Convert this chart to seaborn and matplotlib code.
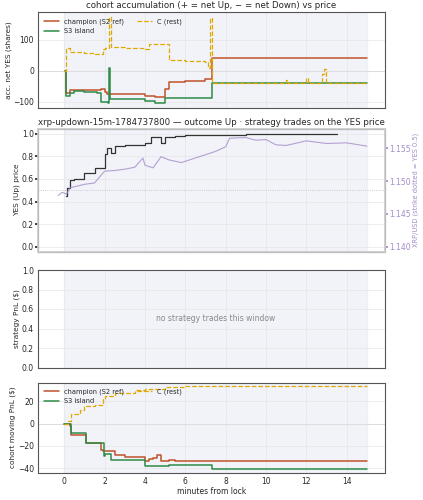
import matplotlib
matplotlib.use("Agg")
import matplotlib.pyplot as plt
import seaborn as sns
import pandas as pd

sns.set_theme(style="whitegrid")
plt.rcParams['font.family'] = ['DejaVu Sans']

RED = "#c0522a"; GRN = "#2e8b47"; YEL = "#e0a800"; PUR = "#a58bc8"

# top panel: accumulation
champ_t = [0.05, 0.1, 0.3, 1.0, 1.8, 2.0, 2.1, 3.0, 4.0, 4.5, 5.0, 5.2, 6.0, 7.0, 7.3, 15]
champ_v = [0, -72, -62, -62, -58, -68, -75, -73, -82, -85, -58, -35, -33, -25, 40, 40]
s3_t = [0.05, 0.1, 0.3, 0.5, 1.0, 1.6, 1.8, 2.15, 2.2, 2.25, 4.0, 4.5, 5.0, 7.3, 15]
s3_v = [0, -80, -72, -65, -68, -72, -100, -102, 8, -92, -96, -104, -88, -40, -40]
c_t = [0.0, 0.1, 0.2, 0.3, 0.5, 1.0, 1.5, 1.9, 2.0, 2.2, 2.3, 3.0, 4.0, 4.2, 5.0, 5.2, 6.0, 7.0, 7.15, 7.25, 7.3, 11.0, 11.1, 12.0, 12.1, 12.8, 12.9, 13.0, 15]
c_v = [0, 70, 75, 60, 62, 58, 55, 70, 75, 175, 78, 75, 70, 85, 88, 35, 33, 30, 8, 170, -40, -28, -40, -22, -40, -10, 5, -40, -40]

# price panel
yes_t = [0.1, 0.15, 0.3, 0.5, 1.0, 1.5, 2.0, 2.1, 2.3, 2.5, 3.0, 4.0, 4.3, 4.8, 5.0, 5.5, 6.0, 7.0, 9.0, 13.5]
yes_v = [0.45, 0.52, 0.59, 0.60, 0.65, 0.70, 0.82, 0.87, 0.83, 0.89, 0.90, 0.92, 0.97, 0.92, 0.97, 0.98, 0.99, 0.99, 1.0, 1.0]
xrp_t = [-0.3, -0.1, 0.1, 0.3, 0.6, 1.0, 1.5, 1.8, 2.0, 2.5, 3.0, 3.5, 3.9, 4.0, 4.4, 4.8, 5.2, 5.8, 6.5, 7.0, 7.5, 8.0, 8.2, 9.0, 9.5, 10.0, 10.5, 11.0, 12.0, 13.0, 14.0, 15.0]
xrp_v = [1.1478, 1.1483, 1.148, 1.1490, 1.1492, 1.1495, 1.1497, 1.1508, 1.1515, 1.1516, 1.1518, 1.1521, 1.1535, 1.1524, 1.1520, 1.1537, 1.1532, 1.1528, 1.1535, 1.1540, 1.1545, 1.1552, 1.1565, 1.1566, 1.1562, 1.1563, 1.1555, 1.1554, 1.1561, 1.1557, 1.1558, 1.1553]

# pnl panel
pc_t = [0.0, 0.3, 0.35, 1.0, 1.1, 1.7, 1.8, 1.9, 2.0, 2.5, 3.0, 4.0, 4.2, 4.4, 4.6, 4.8, 5.2, 5.5, 6.0, 15]
pc_v = [0, -2, -10, -10, -17, -17, -24, -25, -25, -28, -30, -34, -32, -31, -28, -34, -33, -33.5, -34, -34]
ps_t = [0.0, 0.35, 1.1, 1.9, 1.95, 2.0, 2.3, 4.0, 5.2, 7.3, 15]
ps_v = [0, -8, -17, -17, -29, -27, -33, -38, -37, -41, -41]
pcr_t = [0.0, 0.2, 0.35, 0.8, 1.0, 1.5, 1.9, 2.0, 2.5, 3.5, 4.0, 5.0, 6.0, 15]
pcr_v = [0, 2, 9, 12, 16, 17, 22, 25, 28, 30, 31, 33, 33.5, 33.5]

fig = plt.figure(figsize=(4.23, 5.0), dpi=100)
L, W = 0.09, 0.82
axs = [fig.add_axes([L, 0.785, W, 0.19]),
       fig.add_axes([L, 0.497, W, 0.245]),
       fig.add_axes([L, 0.265, W, 0.195]),
       fig.add_axes([L, 0.055, W, 0.18])]
for ax in axs:
    ax.axvspan(0, 15, color="#e8ecf6", alpha=0.6, zorder=0)
    ax.set_xlim(-1.3, 15.9)
    ax.tick_params(labelsize=5.5, length=2, pad=1)
    for s in ax.spines.values():
        s.set_color("#555"); s.set_linewidth(0.8)
    ax.grid(color="#e6e6e6", linewidth=0.5)
    ax.set_xticks(range(0, 16, 2))
for ax in axs[:3]:
    ax.set_xticklabels([])

def step(ax, t, v, **kw):
    sns.lineplot(x=t, y=v, ax=ax, drawstyle="steps-post", estimator=None, sort=False, **kw)

ax = axs[0]
ax.axhline(0, color="#ddd", lw=0.8)
step(ax, champ_t, champ_v, color=RED, lw=1.1, label="champion (S2 ref)")
step(ax, s3_t, s3_v, color=GRN, lw=1.1, label="S3 island")
step(ax, c_t, c_v, color=YEL, lw=0.9, linestyle="--", label="C (rest)")
ax.set_ylim(-118, 188)
ax.set_yticks([-100, 0, 100])
ax.set_ylabel("acc. net YES (shares)", fontsize=5.3, labelpad=1)
ax.set_title("cohort accumulation (+ = net Up, − = net Down) vs price", fontsize=6.2, pad=3)
ax.legend(loc="upper left", fontsize=4.8, ncol=2, frameon=False, handlelength=2.2, columnspacing=2)

ax = axs[1]
ax.axhline(0.5, color="#bbb", lw=0.6, ls=":")
step(ax, yes_t, yes_v, color="#333", lw=0.9)
ax.set_ylim(-0.04, 1.04)
ax.set_yticks([0, 0.2, 0.4, 0.6, 0.8, 1.0])
ax.set_ylabel("YES (Up) price", fontsize=5.3, labelpad=1)
ax.set_title("xrp-updown-15m-1784737800 — outcome Up · strategy trades on the YES price", fontsize=6.2, pad=3)
ax2 = ax.twinx()
sns.lineplot(x=xrp_t, y=xrp_v, ax=ax2, color=PUR, lw=0.8, alpha=0.8)
ax2.set_ylim(1.1393, 1.1579)
ax2.set_yticks([1.140, 1.145, 1.150, 1.155])
ax2.tick_params(labelsize=5.5, colors=PUR, length=2, pad=1)
ax2.set_ylabel("XRP/USD (strike dotted = YES 0.5)", fontsize=4.8, color=PUR, labelpad=1)
ax2.grid(False)

ax = axs[2]
ax.set_ylim(0, 1)
ax.set_yticks([0, 0.2, 0.4, 0.6, 0.8, 1.0])
ax.set_ylabel("strategy PnL ($)", fontsize=5.3, labelpad=1)
ax.text(7.5, 0.5, "no strategy trades this window", ha="center", va="center", fontsize=5.5, color="#888")

ax = axs[3]
ax.axhline(0, color="#ddd", lw=0.8)
step(ax, pc_t, pc_v, color=RED, lw=1.1, label="champion (S2 ref)")
step(ax, ps_t, ps_v, color=GRN, lw=1.1, label="S3 island")
step(ax, pcr_t, pcr_v, color=YEL, lw=0.9, linestyle="--", label="C (rest)")
ax.set_ylim(-44, 37)
ax.set_yticks([-40, -20, 0, 20])
ax.set_ylabel("cohort moving PnL ($)", fontsize=5.3, labelpad=1)
ax.set_xlabel("minutes from lock", fontsize=5.5, labelpad=1)
ax.legend(loc="upper left", fontsize=4.8, ncol=2, frameon=False, handlelength=2.2, columnspacing=2)

fig.savefig("out.png", dpi=100)
